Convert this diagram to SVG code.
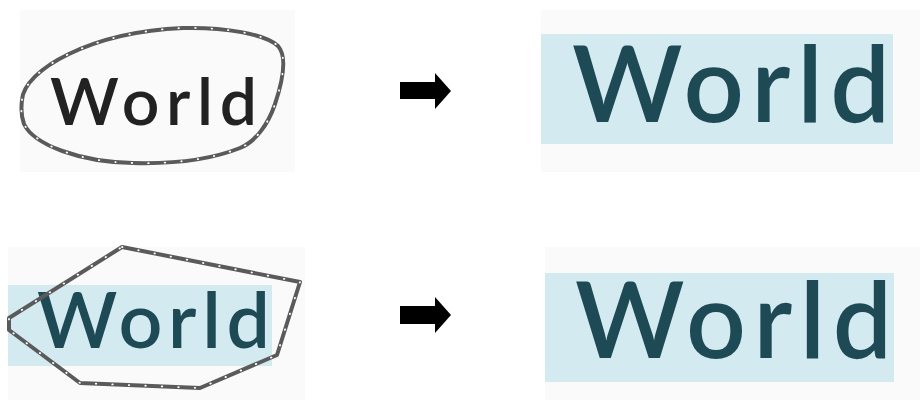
<svg xmlns="http://www.w3.org/2000/svg" width="924" height="402" viewBox="0 0 924 402">
  <defs>
    <style>
      .panel { fill: #fafafa; }
      .hl { fill: #d3eaf0; }
      .word { font-family: Lato, "Liberation Sans", sans-serif; font-weight: 600; }
      .ink { fill: #222222; }
      .teal { fill: #1e4a55; }
      .lasso { fill: none; stroke: #5a5a5a; stroke-width: 4; stroke-linejoin: round; }
      .dots { fill: none; stroke: #ffffff; stroke-width: 1.8; stroke-dasharray: 0.5 16; stroke-linecap: round; }
      .arrow { fill: #000000; }
    </style>
    <path id="egg" d="M22,100 C24,70 90,32 183,28 C225,27 265,34 278,46 C287,56 283,80 275,104 C268,125 255,142 240,148 C210,160 170,164 133,163 C80,162 34,145 24,124 C21,116 21,108 22,100 Z"/>
    <polygon id="poly" points="122,247 300,282 277,355 200,388 80,383 9,330 9,318"/>
  </defs>

  <!-- before / after: ellipse selection -->
  <g id="ellipse-input">
    <rect class="panel" x="20" y="10" width="275" height="162"/>
    <text class="word ink" x="50" y="125" font-size="66" textLength="207" lengthAdjust="spacing">World</text>
    <use href="#egg" class="lasso"/>
    <use href="#egg" class="dots"/>
  </g>

  <g id="ellipse-output">
    <rect class="panel" x="541" y="10" width="379" height="162"/>
    <rect class="hl" x="541" y="34" width="352" height="110"/>
    <text class="word teal" x="572" y="122" font-size="106" textLength="318" lengthAdjust="spacing">World</text>
  </g>

  <!-- before / after: polygon selection -->
  <g id="polygon-input">
    <rect class="panel" x="8" y="247" width="297" height="153"/>
    <rect class="hl" x="8" y="285" width="264" height="81"/>
    <text class="word teal" x="37" y="348" font-size="77" textLength="233" lengthAdjust="spacing">World</text>
    <use href="#poly" class="lasso"/>
    <use href="#poly" class="dots"/>
  </g>

  <g id="polygon-output">
    <rect class="panel" x="545" y="247" width="375" height="153"/>
    <rect class="hl" x="545" y="273" width="349" height="109"/>
    <text class="word teal" x="575" y="358" font-size="105" textLength="317" lengthAdjust="spacing">World</text>
  </g>

  <g id="connectors">
    <polygon class="arrow" points="400,82 435,82 435,73 451,91 435,109 435,99 400,99"/>
    <polygon class="arrow" points="400,306 435,306 435,297 451,315 435,333 435,324 400,324"/>
  </g>
</svg>
